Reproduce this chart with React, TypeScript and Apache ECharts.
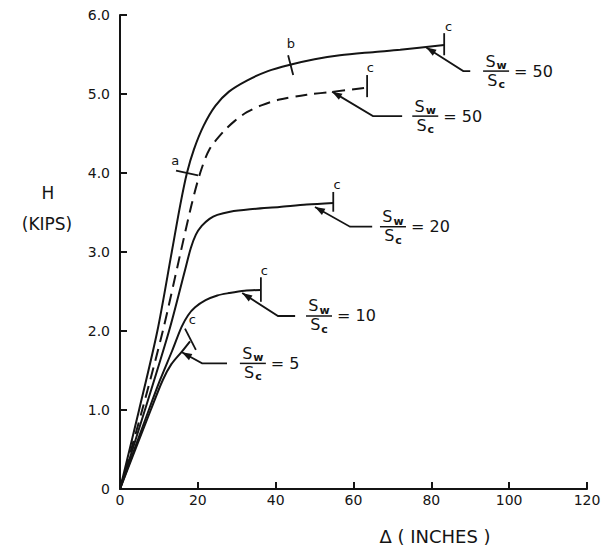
import React, { useEffect, useRef } from 'react';
import * as echarts from 'echarts';

const FONT = 'DejaVu Sans';
const INK = '#141414';

// Axis ticks
const xTicks = [0, 20, 40, 60, 80, 100, 120];
const yTicks = [0, 1, 2, 3, 4, 5, 6];

// Curves: [Δ (inches), H (kips)]
const sw50Solid = [
  [0, 0], [4.9, 1.0], [9.6, 2.0], [13.3, 3.0], [15.5, 3.6], [17.2, 4.0], [19, 4.3],
  [21.5, 4.6], [24.5, 4.85], [28, 5.03], [32.6, 5.17], [38, 5.29], [43.7, 5.37],
  [50, 5.44], [56.5, 5.49], [65, 5.53], [72, 5.56], [83.3, 5.62],
];
const sw50Dashed = [
  [0, 0], [5.7, 1.0], [11, 2.0], [15.6, 3.0], [18.4, 3.6], [20.6, 4.0], [23, 4.3],
  [26.5, 4.52], [29.5, 4.66], [32.6, 4.77], [36.5, 4.86], [41, 4.93], [48, 4.99],
  [55, 5.03], [63.5, 5.08],
];
const sw20 = [
  [0, 0], [6.4, 1.0], [12.6, 2.0], [16.7, 2.77], [18.2, 3.05], [19.5, 3.22], [21, 3.33],
  [23, 3.42], [25, 3.47], [28.3, 3.51], [33.4, 3.54], [41, 3.57], [48, 3.6], [54.8, 3.62],
];
const sw10 = [
  [0, 0], [7.4, 1.0], [10.3, 1.38], [13.4, 1.75], [15.8, 2.05], [17.5, 2.2], [19.3, 2.3],
  [22, 2.39], [25, 2.45], [28, 2.48], [32, 2.51], [36.2, 2.52],
];
const sw5 = [
  [0, 0], [7.9, 1.0], [11, 1.38], [13.2, 1.58], [15.9, 1.74], [18, 1.87],
];

// Annotation geometry, in data units
const cTicks = [
  { from: [83.3, 5.77], to: [83.3, 5.49], label: [84.4, 5.86], text: 'c' },
  { from: [63.5, 5.24], to: [63.5, 4.96], label: [64.3, 5.34], text: 'c' },
  { from: [54.8, 3.76], to: [54.8, 3.51], label: [55.8, 3.86], text: 'c' },
  { from: [36.2, 2.68], to: [36.2, 2.37], label: [37.1, 2.77], text: 'c' },
  { from: [16.7, 2.03], to: [19.5, 1.76], label: [18.6, 2.14], text: 'c' },
  { from: [14.4, 4.03], to: [20.05, 3.97], label: [14.2, 4.16], text: 'a' },
  { from: [43.2, 5.49], to: [44.5, 5.24], label: [43.9, 5.64], text: 'b' },
];
const arrows = [
  [[78.7, 5.59], [88.2, 5.29], [90, 5.29]],
  [[54.5, 5.03], [65, 4.72], [72.5, 4.72]],
  [[50.1, 3.57], [59.1, 3.32], [64.8, 3.32]],
  [[31.4, 2.48], [40.6, 2.19], [45, 2.19]],
  [[15.9, 1.73], [21.1, 1.59], [27.5, 1.59]],
];
const ratioLabels = [
  { at: [93.3, 5.29], value: '50' },
  { at: [75.1, 4.72], value: '50' },
  { at: [66.8, 3.32], value: '20' },
  { at: [47.8, 2.19], value: '10' },
  { at: [30.8, 1.59], value: '5' },
];

const lineSeries = (data: number[][], dashed = false) => ({
  type: 'line',
  data,
  showSymbol: false,
  smooth: 0.3,
  lineStyle: { color: INK, width: 2, type: dashed ? [12, 7] : 'solid' },
  z: 3,
});

export default function App() {
  const ref = useRef<HTMLDivElement>(null);
  useEffect(() => {
    if (!ref.current) return;
    const chart = echarts.init(ref.current, null, { renderer: 'svg' });
    chart.setOption({
      animation: false,
      backgroundColor: '#fff',
      grid: { left: 120, right: 26, top: 15, bottom: 60, containLabel: false },
      xAxis: {
        type: 'value',
        min: xTicks[0],
        max: xTicks[xTicks.length - 1],
        interval: 20,
        axisLine: { show: true, lineStyle: { color: INK, width: 2 } },
        axisTick: { show: true, inside: true, length: 7, lineStyle: { color: INK, width: 2 } },
        axisLabel: { color: INK, fontFamily: FONT, fontSize: 14, margin: 4 },
        splitLine: { show: false },
      },
      yAxis: {
        type: 'value',
        min: yTicks[0],
        max: yTicks[yTicks.length - 1],
        interval: 1,
        axisLine: { show: true, lineStyle: { color: INK, width: 2 } },
        axisTick: { show: true, inside: true, length: 7, lineStyle: { color: INK, width: 2 } },
        axisLabel: {
          color: INK, fontFamily: FONT, fontSize: 14, margin: 10,
          formatter: (v: number) => (v === 0 ? '0' : v.toFixed(1)),
        },
        splitLine: { show: false },
      },
      series: [
        lineSeries(sw50Solid),
        lineSeries(sw50Dashed, true),
        lineSeries(sw20),
        lineSeries(sw10),
        lineSeries(sw5),
      ],
    });

    const px = (p: number[]) => chart.convertToPixel({ gridIndex: 0 }, p) as number[];
    const g: any[] = [];
    const stroke = { stroke: INK, lineWidth: 1.8 };

    cTicks.forEach((t) => {
      const a = px(t.from), b = px(t.to), l = px(t.label);
      g.push({ type: 'line', shape: { x1: a[0], y1: a[1], x2: b[0], y2: b[1] }, style: stroke, z: 10 });
      g.push({
        type: 'text', x: l[0], y: l[1],
        style: { text: t.text, font: `13px "${FONT}"`, fill: INK, align: 'center', verticalAlign: 'middle' },
        z: 10,
      });
    });

    arrows.forEach((arr) => {
      const pts = arr.map(px);
      g.push({ type: 'polyline', shape: { points: pts }, style: { ...stroke, fill: null }, z: 10 });
      const [h, n] = [pts[0], pts[1]];
      const dx = n[0] - h[0], dy = n[1] - h[1];
      const len = Math.hypot(dx, dy);
      const ux = dx / len, uy = dy / len;
      const L = 10, W = 3.5;
      const bx = h[0] + ux * L, by = h[1] + uy * L;
      g.push({
        type: 'polygon',
        shape: { points: [h, [bx - uy * W, by + ux * W], [bx + uy * W, by - ux * W]] },
        style: { fill: INK },
        z: 10,
      });
    });

    ratioLabels.forEach((r) => {
      const p = px(r.at);
      const x0 = p[0], y0 = p[1], w = 26;
      g.push({ type: 'line', shape: { x1: x0, y1: y0, x2: x0 + w, y2: y0 }, style: { stroke: INK, lineWidth: 1.5 }, z: 10 });
      const frac = (txt: string, yy: number, base: 'bottom' | 'top') => ({
        type: 'text', x: x0 + w / 2, y: yy,
        style: {
          text: `{s|S}{w|${txt}}`, align: 'center', verticalAlign: base, fill: INK,
          rich: {
            s: { fontFamily: FONT, fontSize: 16, fill: INK, verticalAlign: 'bottom' },
            w: { fontFamily: FONT, fontSize: 11, fontWeight: 'bold', fill: INK, verticalAlign: 'bottom', padding: [0, 0, -2, 1] },
          },
        },
        z: 10,
      });
      g.push(frac('w', y0 - 2, 'bottom'));
      g.push(frac('c', y0 + 1, 'top'));
      g.push({
        type: 'text', x: x0 + w + 5, y: y0,
        style: { text: `= ${r.value}`, font: `16px "${FONT}"`, fill: INK, align: 'left', verticalAlign: 'middle' },
        z: 10,
      });
    });

    g.push({
      type: 'text', x: 48, y: 193,
      style: { text: 'H', font: `17px "${FONT}"`, fill: INK, align: 'center', verticalAlign: 'middle' },
    });
    g.push({
      type: 'text', x: 47, y: 224,
      style: { text: '(KIPS)', font: `17px "${FONT}"`, fill: INK, align: 'center', verticalAlign: 'middle' },
    });
    g.push({
      type: 'text', x: 435, y: 536,
      style: { text: 'Δ ( INCHES )', font: `18px "${FONT}"`, fill: INK, align: 'center', verticalAlign: 'middle' },
    });

    chart.setOption({ graphic: g });
    return () => chart.dispose();
  }, []);
  return (
    <div
      ref={ref}
      style={{ position: 'absolute', left: 0, top: 0, width: 613, height: 549, background: '#fff' }}
    />
  );
}
